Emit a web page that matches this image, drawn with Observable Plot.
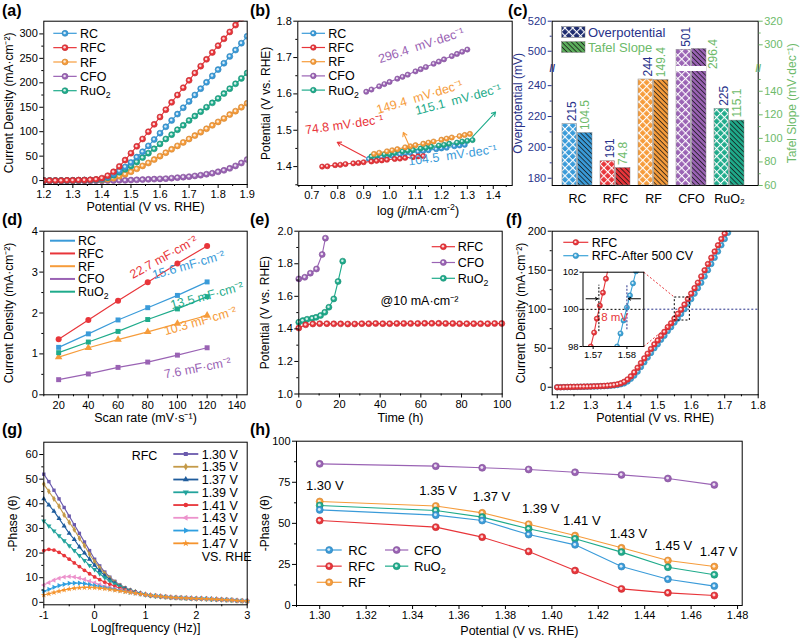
<!DOCTYPE html>
<html>
<head>
<meta charset="utf-8">
<script src="https://cdn.jsdelivr.net/npm/d3@7"></script>
<script src="https://cdn.jsdelivr.net/npm/@observablehq/plot@0.6"></script>
<style>
html,body{margin:0;padding:0;background:#fff;}
#root{position:relative;width:800px;height:643px;overflow:hidden;background:#fff;font-family:"Liberation Sans",Arial,Helvetica,sans-serif;}
.plab{position:absolute;font-weight:bold;font-size:16px;line-height:1;}
.htitle{position:absolute;font-size:12.5px;white-space:nowrap;transform:translate(-50%,-50%);line-height:1;}
</style>
</head>
<body>
<div id="root"></div>
<script>
// ================= DATA =================
const catalysts = ["RC", "RFC", "RF", "CFO", "RuO2"];

// (a) LSV polarization curves
const lsvPotential = [1.20,1.22,1.24,1.26,1.28,1.30,1.32,1.34,1.36,1.38,1.40,1.42,1.44,1.46,1.48,1.50,1.52,1.54,1.56,1.58,1.60,1.62,1.64,1.66,1.68,1.70,1.72,1.74,1.76,1.78,1.80,1.82,1.84,1.86,1.88,1.90];
const lsvRC   = [0,0,0,0,0,0.5,0.5,1,1,1.5,3,7,13,20,28,37,48,59,71,84,97,110,123,136,149,162,175,188,201,214,227,240,254,267,281,295];
const lsvRFC  = [0,0,0,0,0.5,0.5,1,1,1.5,2.5,5,10,18,29,42,56,70,85,100,115,130,145,160,175,190,205,220,234,248,262,276,290,304,318,332,346];
const lsvRF   = [0,0,0,0,0,0.3,0.5,0.5,0.8,1,1,2.5,5,9,13,18,24,30,36,43,50,57,64,71,78,85,92,99,106,113,120,127,135,142,150,158];
const lsvCFO  = [-1,-1,-1,-1,-1,-1,-1,-1,-1,-0.5,-0.5,0,0,0.5,0.5,1,1.5,2,2.5,3,3.5,4,5,6,7,8,9.5,11,13,15,18,21,25,30,36,43];
const lsvRuO2 = [0,0,0,0,0,0.5,0.5,1,1,1.5,2.5,6,11,17,23,30,38,47,56,65,75,85,94,104,113,123,132,141,150,159,168,178,188,198,209,220];

// (b) Tafel plots
const tafelLogRC = [0.92,0.94,0.97,0.99,1.01,1.04,1.06,1.08,1.11,1.13,1.15,1.18,1.20,1.22,1.25,1.27,1.29];
const tafelRC    = [1.421,1.423,1.426,1.428,1.430,1.434,1.436,1.438,1.441,1.443,1.445,1.448,1.450,1.452,1.456,1.458,1.460];
const tafelLogRFC = [0.74,0.76,0.79,0.81,0.83,0.86,0.88,0.90,0.93,0.95,0.97,0.99,1.02,1.04,1.06,1.09,1.11,1.13];
const tafelRFC    = [1.400,1.401,1.404,1.405,1.407,1.409,1.410,1.412,1.414,1.416,1.417,1.419,1.421,1.422,1.424,1.426,1.428,1.429];
const tafelLogRF = [0.94,0.96,0.99,1.01,1.03,1.06,1.08,1.10,1.13,1.15,1.17,1.20,1.22,1.24,1.27,1.29,1.31];
const tafelRF    = [1.435,1.438,1.442,1.445,1.448,1.453,1.456,1.459,1.463,1.466,1.469,1.474,1.477,1.480,1.484,1.487,1.490];
const tafelLogCFO = [0.91,0.93,0.96,0.98,1.00,1.03,1.05,1.07,1.10,1.12,1.14,1.17,1.19,1.21,1.24,1.26,1.28,1.30];
const tafelCFO    = [1.606,1.612,1.621,1.627,1.633,1.642,1.647,1.653,1.662,1.668,1.674,1.683,1.689,1.695,1.704,1.710,1.716,1.722];
const tafelLogRuO2 = [0.93,0.95,0.98,1.00,1.02,1.05,1.07,1.09,1.12,1.14,1.16,1.19,1.21,1.23,1.26,1.28,1.30,1.32];
const tafelRuO2    = [1.428,1.430,1.434,1.435,1.438,1.442,1.444,1.446,1.450,1.452,1.455,1.458,1.460,1.463,1.466,1.469,1.471,1.473];
const tafelNotes = [
  {text:"296.4  mV·dec⁻¹", x:1.122, y:1.733, rot:-18, c:"CFO"},
  {text:"149.4  mV·dec⁻¹", x:1.116, y:1.591, rot:-17, c:"RF"},
  {text:"115.1  mV·dec⁻¹", x:1.265, y:1.584, rot:-15, c:"RuO2"},
  {text:"74.8 mV·dec⁻¹",  x:0.825, y:1.515, rot:-8,  c:"RFC"},
  {text:"104.5  mV·dec⁻¹", x:1.243, y:1.431, rot:-8,  c:"RC"}
];
const tafelArrows = [
  {x1:0.907, y1:1.426, x2:0.798, y2:1.467, c:"RFC"},
  {x1:1.081, y1:1.449, x2:1.053, y2:1.494, c:"RF"},
  {x1:1.319, y1:1.481, x2:1.409, y2:1.550, c:"RuO2"}
];

// (c) overpotential (mV) and Tafel slope (mV/dec)
const overpotential = [215, 191, 244, 501, 225];
const tafelSlope = [104.5, 74.8, 149.4, 296.4, 115.1];

// (d) double-layer capacitance
const scanRate = [20, 40, 60, 80, 100, 120];
const dlRC   = [1.16,1.49,1.83,2.13,2.43,2.76];
const dlRFC  = [1.36,1.83,2.30,2.75,3.21,3.64];
const dlRF   = [0.92,1.15,1.35,1.54,1.74,1.94];
const dlCFO  = [0.37,0.51,0.67,0.80,0.97,1.15];
const dlRuO2 = [1.03,1.29,1.55,1.84,2.10,2.40];
const dlNotes = [
  {text:"22.7 mF·cm⁻²", x:90.7,  y:3.36, rot:-29, c:"RFC"},
  {text:"15.6 mF·cm⁻²", x:107.5, y:3.17, rot:-16, c:"RC"},
  {text:"13.5 mF·cm⁻²", x:119.9, y:2.42, rot:-15, c:"RuO2"},
  {text:"10.3 mF·cm⁻²", x:115.4, y:1.80, rot:-16, c:"RF"},
  {text:"7.6 mF·cm⁻²",  x:113.5, y:0.65, rot:-11, c:"CFO"}
];

// (e) chronopotentiometry @10 mA cm-2
const stabTimeRFC = [0,3.4,6.9,10.3,13.8,17.2,20.6,24.1,27.5,31,34.4,37.8,41.3,44.7,48.2,51.6,55,58.5,61.9,65.4,68.8,72.2,75.7,79.1,82.6,86,89.4,92.9,96.3,99.8];
const stabRFC     = [1.405,1.425,1.430,1.432,1.432,1.431,1.431,1.430,1.430,1.432,1.432,1.433,1.432,1.432,1.433,1.433,1.433,1.433,1.434,1.434,1.434,1.433,1.433,1.432,1.432,1.432,1.432,1.432,1.433,1.433];
const stabTimeCFO = [0,2.95,5.7,8.7,11.5,13.1];
const stabCFO     = [1.707,1.717,1.742,1.768,1.857,1.957];
const stabTimeRuO2 = [0,2.0,4.1,6.6,8.5,10.7,12.8,14.8,17.2,19.3,21.6];
const stabRuO2     = [1.441,1.451,1.459,1.465,1.471,1.482,1.502,1.533,1.584,1.691,1.816];

// (f) LSV before / after 500 CV
const fPotential = [1.20,1.21,1.22,1.23,1.24,1.25,1.26,1.27,1.28,1.29,1.30,1.31,1.32,1.33,1.34,1.35,1.36,1.37,1.38,1.39,1.40,1.41,1.42,1.43,1.44,1.45,1.46,1.47,1.48,1.49,1.50,1.51,1.52,1.53,1.54,1.55,1.56,1.57,1.58,1.59,1.60,1.61,1.62,1.63,1.64,1.65,1.66,1.67,1.68,1.69,1.70,1.71,1.72];
const fRFC = [0,0,0.2,0.3,0.4,0.5,0.6,0.7,0.8,0.9,1.0,1.2,1.3,1.5,1.7,2.0,2.4,3.0,3.8,5.0,7,10,14,19,25,31,37,43,49,55,60,66,71,77,82,88,94,99.5,106,113,120,127,134,142,150,158,166,174,182,190,197,205,213];
const fAfterCV = [0,0,0.1,0.2,0.3,0.4,0.5,0.6,0.7,0.8,0.9,1.0,1.1,1.2,1.4,1.6,1.9,2.3,2.9,3.8,5,7.5,11,15,20,26,32,38,44,50,55,61,66,72,77,83,88,94,100,107,113,120,127,134,142,150,158,166,174,182,190,198,206];
const insetRFCPot = [1.5693,1.5703,1.5711,1.5720,1.5729,1.5738,1.5747];
const insetRFCJ   = [98.0,98.75,99.5,100.2,100.9,101.65,102.4];
const insetAfterPot = [1.5771,1.5781,1.5790,1.5800,1.5809,1.5818,1.5827];
const insetAfterJ   = [98.0,98.7,99.4,100.1,100.75,101.4,102.05];

// (g) Bode phase plots of RFC
const eisLogF = [-1,-0.9,-0.8,-0.7,-0.6,-0.5,-0.4,-0.3,-0.2,-0.1,0,0.1,0.2,0.3,0.4,0.5,0.6,0.7,0.8,0.9,1.0,1.1,1.2,1.3,1.4,1.5,1.6,1.7,1.8,1.9,2.0,2.1,2.2,2.3,2.4,2.5,2.6,2.7,2.8,2.9,3.0];
const eisLabels = ["1.30 V","1.35 V","1.37 V","1.39 V","1.41 V","1.43 V","1.45 V","1.47 V"];
const eis130 = [52,49,45.5,42,38.5,35,31.5,28,24.5,21,17.5,14.8,12.3,10.2,8.5,7.0,5.9,5.0,4.3,3.7,3.2];
const eis135 = [48,45,42,39,35.5,32.5,29.5,26,23,19.5,16.5,14,11.7,9.8,8.2,6.8,5.7,4.9,4.2,3.6,3.2];
const eis137 = [42,39.5,37,34,31,28,25.5,22.5,20,17.5,15,12.8,10.8,9.2,7.8,6.5,5.5,4.7,4.1,3.6,3.1];
const eis139 = [33,31,29,27,25,23,21,19,17,15,13.3,11.6,10,8.6,7.4,6.3,5.3,4.6,4.0,3.5,3.1];
const eis141 = [21,21.5,21.2,20.3,19,17.5,16,14.5,13,11.6,10.3,9.2,8.2,7.3,6.5,5.7,5.0,4.4,3.9,3.5,3.1];
const eis143 = [7,8,9,9.8,10.3,10.5,10.3,9.9,9.3,8.6,7.9,7.2,6.6,6.0,5.5,5.0,4.5,4.1,3.7,3.4,3.1];
const eis145 = [4.5,5.3,6.1,6.8,7.3,7.7,7.8,7.8,7.6,7.2,6.8,6.4,6.0,5.6,5.2,4.8,4.4,4.0,3.7,3.4,3.1];
const eis147 = [3,3.5,4,4.5,5,5.4,5.7,5.9,6,6,5.9,5.7,5.5,5.2,4.9,4.6,4.3,4.0,3.7,3.4,3.1];
const eisTail = [2.8,2.6,2.4,2.2,2.0,1.9,1.8,1.7,1.6,1.5,1.5,1.4,1.3,1.2,1.1,1.0,0.9,0.7,0.6,0.5]; // log f 1.1..3.0, all curves overlap

// (h) phase angle vs potential
const hPotential = [1.30,1.35,1.37,1.39,1.41,1.43,1.45,1.47];
const hRC   = [58.2,55.0,51.7,43.2,36.9,23.7,16.0,11.8];
const hRFC  = [51.7,47.7,41.6,32.9,21.3,10.1,7.7,6.1];
const hRF   = [63.3,60.6,56.4,49.5,42.6,35.1,27.4,23.7];
const hCFO  = [86.2,84.8,83.8,82.8,81.1,79.5,77.3,73.4];
const hRuO2 = [60.9,57.8,53.8,46.7,40.6,32.5,23.3,18.7];
const hNotes = [
  {t:"1.30 V", x:1.3022, y:73.0}, {t:"1.35 V", x:1.3510, y:70.0}, {t:"1.37 V", x:1.3740, y:66.3},
  {t:"1.39 V", x:1.3952, y:58.8}, {t:"1.41 V", x:1.4129, y:51.7}, {t:"1.43 V", x:1.4330, y:43.6},
  {t:"1.45 V", x:1.4524, y:36.1}, {t:"1.47 V", x:1.4718, y:32.7}
];

// ================= STYLE / HELPERS =================
const FONT = '"Liberation Sans", Arial, Helvetica, sans-serif';
const root = document.getElementById("root");
const navy = "#28328a", green = "#6dba6a";
const colors = {RC:"#3a9bd9", RFC:"#e8353a", RF:"#f69c3b", CFO:"#9a63b4", RuO2:"#1fab8b"};
const eisColors = ["#6a5aad","#c49a48","#1f5c9c","#22a39c","#e8353a","#ec92cc","#2f9fe0","#f5942e"];
const eisSymbols = ["square","diamond","triangle","triangle","circle","triangle","triangle","star"];
const eisRot = [0,0,0,180,0,-90,90,0];
const baseStyle = {fontSize:"11px", fontFamily: FONT, background:"transparent", overflow:"visible", color:"black"};

function place(svg, left, top) {
  svg.style.position = "absolute"; svg.style.left = left + "px"; svg.style.top = top + "px";
  root.appendChild(svg); return svg;
}
function rows(xs, ys) { return xs.map((x, i) => ({x, y: ys[i]})); }
function balls(d, color, r, extra = {}) {
  return [
    Plot.dot(d, {x:"x", y:"y", r, fill: color, stroke: d3.color(color).darker(0.5).formatHex(), strokeWidth: 0.6, ...extra}),
    Plot.dot(d, {x:"x", y:"y", r: r * 0.42, fill: "white", fillOpacity: 0.8, dx: -0.4, dy: -0.4, ...extra})
  ];
}
function lineBalls(xs, ys, color, r, extra = {}) {
  const d = rows(xs, ys);
  return [Plot.line(d, {x:"x", y:"y", stroke: color, strokeWidth: 1.1, ...extra}), ...balls(d, color, r, extra)];
}
function axX(major, minor, fmt, o = {}) {
  return [
    Plot.axisX({ticks: major, tickFormat: fmt, tickSize: 4, tickPadding: 2, label: null, ...o}),
    Plot.axisX({ticks: minor, tickFormat: () => "", tickSize: 2, label: null, ...o})
  ];
}
function axY(major, minor, fmt, o = {}) {
  return [
    Plot.axisY({ticks: major, tickFormat: fmt, tickSize: 4, tickPadding: 2, label: null, ...o}),
    Plot.axisY({ticks: minor, tickFormat: () => "", tickSize: 2, label: null, ...o})
  ];
}
const yTitle = (t, dx, o = {}) => Plot.text([t], {text: d => d, frameAnchor: "left", textAnchor: "middle", rotate: -90, dx, fontSize: 12, ...o});
const xTitle = (t, dy) => Plot.text([t], {text: d => d, frameAnchor: "bottom", textAnchor: "middle", dy, fontSize: 12.5});

function setLabel(t, label) {
  if (label === "RuO2") {
    t.text("RuO");
    t.append("tspan").attr("font-size", "70%").attr("dy", "0.35em").text("2");
  } else t.text(label);
}
function drawMarker(g, type, x, y, color, r, rot) {
  if (type === "ball") {
    g.append("circle").attr("cx", x).attr("cy", y).attr("r", r).attr("fill", color)
      .attr("stroke", d3.color(color).darker(0.5).formatHex()).attr("stroke-width", 0.6);
    g.append("circle").attr("cx", x - 0.4).attr("cy", y - 0.4).attr("r", r * 0.42).attr("fill", "white").attr("fill-opacity", 0.8);
  } else if (type) {
    const sym = {square: d3.symbolSquare, triangle: d3.symbolTriangle, circle: d3.symbolCircle, diamond: d3.symbolDiamond, star: d3.symbolStar}[type];
    g.append("path").attr("d", d3.symbol(sym, r * r * 3.3)()).attr("transform", `translate(${x},${y}) rotate(${rot || 0})`).attr("fill", color);
  }
}
function legend(svg, items, o) {
  const g = d3.select(svg).append("g").attr("font-family", FONT).attr("font-size", o.fs || 12.5).attr("text-anchor", "start");
  items.forEach((it, i) => {
    const y = o.y0 + i * o.dy;
    g.append("line").attr("x1", o.x0).attr("x2", o.x1).attr("y1", y).attr("y2", y)
      .attr("stroke", it.color).attr("stroke-width", o.sw || 1.2);
    if (it.marker) drawMarker(g, it.marker, (o.x0 + o.x1) / 2, y, it.color, o.r || 3, it.rot);
    const t = g.append("text").attr("x", o.tx).attr("y", y).attr("dy", "0.36em").attr("fill", "black");
    setLabel(t, it.label);
  });
  return g;
}
function panelLabel(txt, left, top) {
  const d = document.createElement("div"); d.className = "plab"; d.textContent = txt;
  d.style.left = left + "px"; d.style.top = top + "px"; root.appendChild(d);
}
const fmt1 = d => d.toFixed(1);
const fmt2 = d => d.toFixed(2);
const fmt0 = d => String(d);

// ================= (a) =================
const lsvBy = {RC: lsvRC, RFC: lsvRFC, RF: lsvRF, CFO: lsvCFO, RuO2: lsvRuO2};
const pa = Plot.plot({
  width: 265, height: 215, marginLeft: 43.3, marginRight: 18.3, marginTop: 20.7, marginBottom: 31,
  style: baseStyle,
  x: {domain: [1.2, 1.9], axis: null}, y: {domain: [-8, 326], axis: null},
  marks: [
    ...["CFO", "RF", "RuO2", "RC", "RFC"].flatMap(k => lineBalls(lsvPotential, lsvBy[k], colors[k], 3, {clip: true})),
    Plot.frame({stroke: "black"}),
    ...axX([1.2,1.3,1.4,1.5,1.6,1.7,1.8,1.9], [1.25,1.35,1.45,1.55,1.65,1.75,1.85], fmt1),
    ...axY([0,50,100,150,200,250,300], [25,75,125,175,225,275], fmt0),
    yTitle("Current Density (mA·cm⁻²)", -35),
    xTitle("Potential (V vs. RHE)", 26.5)
  ]
});
place(pa, 0, 0);
legend(pa, catalysts.map(k => ({label: k, color: colors[k], marker: "ball"})), {x0: 53.3, x1: 76.7, tx: 80, y0: 33.3, dy: 14.35, r: 3});

// ================= (b) =================
const tafelBy = {RC: [tafelLogRC, tafelRC], RFC: [tafelLogRFC, tafelRFC], RF: [tafelLogRF, tafelRF], CFO: [tafelLogCFO, tafelCFO], RuO2: [tafelLogRuO2, tafelRuO2]};
const pb = Plot.plot({
  width: 265, height: 215, marginLeft: 32.3, marginRight: 18.3, marginTop: 20.7, marginBottom: 30,
  style: baseStyle, color: {type: "identity"},
  x: {domain: [0.646, 1.473], axis: null}, y: {domain: [1.348, 1.8], axis: null},
  marks: [
    ...["RC", "RuO2", "RF", "RFC", "CFO"].flatMap(k => lineBalls(tafelBy[k][0], tafelBy[k][1], colors[k], 2.6)),
    Plot.text(tafelNotes, {x: "x", y: "y", text: "text", rotate: "rot", fill: d => colors[d.c], fontSize: 12.5}),
    Plot.arrow(tafelArrows, {x1: "x1", y1: "y1", x2: "x2", y2: "y2", stroke: d => colors[d.c], strokeWidth: 1.1, headLength: 6}),
    Plot.frame({stroke: "black"}),
    ...axX([0.7,0.8,0.9,1.0,1.1,1.2,1.3,1.4], [0.65,0.75,0.85,0.95,1.05,1.15,1.25,1.35,1.45], fmt1),
    ...axY([1.4,1.5,1.6,1.7,1.8], [1.35,1.45,1.55,1.65,1.75], fmt1),
    yTitle("Potential (V vs. RHE)", -32)
  ]
});
place(pb, 265, 0);
legend(pb, catalysts.map(k => ({label: k, color: colors[k], marker: "ball"})), {x0: 36.7, x1: 60, tx: 63.3, y0: 33.3, dy: 14.2, r: 2.8});
{
  const d = document.createElement("div"); d.className = "htitle";
  d.innerHTML = "log (<i>j</i>/mA·cm<sup style='font-size:70%'>-2</sup>)";
  d.style.left = "418px"; d.style.top = "210px"; root.appendChild(d);
}

// ================= (c) =================
const cRows = catalysts.map((c, i) => ({cat: c, op: overpotential[i], tafel: tafelSlope[i]}));
const opDomain = [175.3, 249.5, 489.5, 520];
const tafelDomain = [60, 157.2, 281.2, 320];
const breakRange = [185, 70.5, 66.5, 20.7];
const xBand = {type: "band", domain: catalysts, range: [32.2, 218.9], paddingInner: 0.2, paddingOuter: 0, align: 0, axis: null};
const halfBar = 15.55;
const cfoRow = cRows.filter(d => d.cat === "CFO");
const otherRows = cRows.filter(d => d.cat !== "CFO");
const pc1 = Plot.plot({
  width: 270, height: 215, marginLeft: 21.7, marginRight: 42.3, marginTop: 20.7, marginBottom: 30,
  style: baseStyle, color: {type: "identity"},
  x: xBand, y: {type: "linear", domain: opDomain, range: breakRange, axis: null},
  marks: [
    Plot.barY(cRows, {x: "cat", y1: opDomain[0], y2: "op", fill: d => colors[d.cat], insetRight: halfBar}),
    Plot.barY(cRows, {x: "cat", y1: opDomain[0], y2: "op", fill: "url(#hatchCross)", insetRight: halfBar, stroke: "#8a8a8a", strokeWidth: 0.5}),
    Plot.text(cRows, {x: "cat", y: "op", text: d => String(d.op), rotate: -90, textAnchor: "start", dx: -5, dy: -3, fill: navy, fontSize: 12}),
    Plot.frame({stroke: "black"}),
    ...axY([180,200,220,240,500,520], [190,210,230,510], fmt0, {color: navy, line: true}),
    Plot.axisX({tickSize: 0, tickPadding: 9, fontSize: 12.5, label: null, tickFormat: d => d === "RuO2" ? "RuO₂" : d}),
    yTitle("Overpotential (mV)", -34, {fill: navy})
  ]
});
place(pc1, 530, 0);
{
  const defs = d3.select(pc1).insert("defs", ":first-child");
  const p1 = defs.append("pattern").attr("id", "hatchCross").attr("patternUnits", "userSpaceOnUse")
    .attr("width", 5.5).attr("height", 5.5).attr("patternTransform", "rotate(45)");
  p1.append("path").attr("d", "M0,0.5H5.5M0.5,0V5.5").attr("stroke", "white").attr("stroke-width", 1.1).attr("fill", "none");
  const p2 = defs.append("pattern").attr("id", "hatchDiag").attr("patternUnits", "userSpaceOnUse")
    .attr("width", 3.4).attr("height", 3.4).attr("patternTransform", "rotate(45)");
  p2.append("path").attr("d", "M0,0.5H3.4").attr("stroke", "#111").attr("stroke-width", 0.75);
  const gl = d3.select(pc1).append("g").attr("font-family", FONT).attr("font-size", 13).attr("text-anchor", "start");
  [["Overpotential", "#1d2b6f", "url(#hatchCross)", navy, 26.7], ["Tafel Slope", "#5cae5c", "url(#hatchDiag)", green, 41.7]]
    .forEach(([label, base, pat, tc, y]) => {
      gl.append("rect").attr("x", 31.7).attr("y", y).attr("width", 23.3).attr("height", 10.6).attr("fill", base);
      gl.append("rect").attr("x", 31.7).attr("y", y).attr("width", 23.3).attr("height", 10.6).attr("fill", pat).attr("stroke", "#777").attr("stroke-width", 0.5);
      gl.append("text").attr("x", 58).attr("y", y + 5.3).attr("dy", "0.36em").attr("fill", tc).text(label);
    });
}
const pc2 = Plot.plot({
  width: 270, height: 215, marginLeft: 21.7, marginRight: 42.3, marginTop: 20.7, marginBottom: 30,
  style: baseStyle, color: {type: "identity"},
  x: xBand, y: {type: "linear", domain: tafelDomain, range: breakRange, axis: null},
  marks: [
    Plot.barY(cRows, {x: "cat", y1: tafelDomain[0], y2: "tafel", fill: d => colors[d.cat], insetLeft: halfBar}),
    Plot.barY(cRows, {x: "cat", y1: tafelDomain[0], y2: "tafel", fill: "url(#hatchDiag)", insetLeft: halfBar, stroke: "#8a8a8a", strokeWidth: 0.5}),
    // axis break gap across the CFO bars only
    Plot.barY(cfoRow, {x: "cat", y1: tafelDomain[1], y2: tafelDomain[2], fill: "white", insetTop: -0.5, insetBottom: -0.5}),
    Plot.text(otherRows, {x: "cat", y: "tafel", text: d => String(d.tafel), rotate: -90, textAnchor: "start", dx: 7.5, dy: -3, fill: green, fontSize: 12}),
    Plot.text(cfoRow, {x: "cat", y: "tafel", text: d => String(d.tafel), rotate: -90, textAnchor: "start", dx: 22, dy: 20, fill: green, fontSize: 12}),
    ...axY([60,80,100,120,140,300,320], [70,90,110,130,150,310], fmt0, {anchor: "right", color: green, line: true}),
    Plot.text(["//"], {y: () => 219.2, frameAnchor: "left", textAnchor: "middle", text: d => d, fill: navy, fontSize: 10, fontWeight: "bold"}),
    Plot.text(["//"], {y: () => 219.2, frameAnchor: "right", textAnchor: "middle", text: d => d, fill: green, fontSize: 10, fontWeight: "bold"}),
    Plot.text(["Tafel Slope (mV·dec⁻¹)"], {text: d => d, frameAnchor: "right", textAnchor: "middle", rotate: -90, dx: 34, fontSize: 12, fill: green})
  ]
});
place(pc2, 530, 0);

// ================= (d) =================
const dlBy = {RC: dlRC, RFC: dlRFC, RF: dlRF, CFO: dlCFO, RuO2: dlRuO2};
const dlSym = {RC: "square", RFC: "circle", RF: "triangle", CFO: "square", RuO2: "square"};
const pd = Plot.plot({
  width: 265, height: 215, marginLeft: 43.3, marginRight: 18.3, marginTop: 20.7, marginBottom: 30.7,
  style: baseStyle, color: {type: "identity"},
  x: {domain: [10, 147], axis: null}, y: {domain: [0, 4], axis: null},
  marks: [
    ...catalysts.flatMap(k => {
      const d = rows(scanRate, dlBy[k]);
      return [Plot.line(d, {x: "x", y: "y", stroke: colors[k], strokeWidth: 1.2}),
              Plot.dot(d, {x: "x", y: "y", fill: colors[k], symbol: dlSym[k], r: dlSym[k] === "circle" ? 3 : 2.8})];
    }),
    Plot.text(dlNotes, {x: "x", y: "y", text: "text", rotate: "rot", fill: d => colors[d.c], fontSize: 12.5}),
    Plot.frame({stroke: "black"}),
    ...axX([20,40,60,80,100,120,140], [10,30,50,70,90,110,130], fmt0),
    ...axY([0,1,2,3,4], [0.5,1.5,2.5,3.5], fmt0),
    yTitle("Current Density (mA·cm⁻²)", -35),
    xTitle("Scan rate (mV·s⁻¹)", 27)
  ]
});
place(pd, 0, 210);
legend(pd, catalysts.map(k => ({label: k, color: colors[k]})), {x0: 50, x1: 75, tx: 78, y0: 30.7, dy: 12.75, sw: 2});

// ================= (e) =================
const pe = Plot.plot({
  width: 265, height: 215, marginLeft: 33.3, marginRight: 28.3, marginTop: 20.7, marginBottom: 31.5,
  style: baseStyle,
  x: {domain: [0, 100], axis: null}, y: {domain: [1.0, 2.0], axis: null},
  marks: [
    ...lineBalls(stabTimeRuO2, stabRuO2, colors.RuO2, 3),
    ...lineBalls(stabTimeCFO, stabCFO, colors.CFO, 3),
    ...lineBalls(stabTimeRFC, stabRFC, colors.RFC, 3),
    Plot.text(["@10 mA·cm⁻²"], {x: () => 40.2, y: () => 1.574, text: d => d, textAnchor: "start", fontSize: 12.5}),
    Plot.frame({stroke: "black"}),
    ...axX([0,20,40,60,80,100], [10,30,50,70,90], fmt0),
    ...axY([1.0,1.2,1.4,1.6,1.8,2.0], [1.1,1.3,1.5,1.7,1.9], fmt1),
    yTitle("Potential (V vs. RHE)", -34),
    xTitle("Time (h)", 27.5)
  ]
});
place(pe, 265, 210);
legend(pe, ["RFC", "CFO", "RuO2"].map(k => ({label: k, color: colors[k], marker: "ball"})), {x0: 166.7, x1: 190, tx: 192.7, y0: 36.7, dy: 15.8, r: 3});

// ================= (f) =================
const fBlue = "#3ba3d8";
const pf = Plot.plot({
  width: 270, height: 215, marginLeft: 21.7, marginRight: 42.3, marginTop: 20.7, marginBottom: 30.7,
  style: baseStyle,
  x: {domain: [1.185, 1.8], axis: null}, y: {domain: [-9.7, 200], axis: null},
  marks: [
    Plot.ruleY([100], {x1: 1.4585, x2: 1.8, stroke: navy, strokeDasharray: "2,2"}),
    ...lineBalls(fPotential, fAfterCV, fBlue, 2.8, {clip: true}),
    ...lineBalls(fPotential, fRFC, colors.RFC, 2.8, {clip: true}),
    Plot.rect([0], {x1: () => 1.551, x2: () => 1.596, y1: () => 85.5, y2: () => 115, fill: "none", stroke: "black", strokeDasharray: "2,2"}),
    Plot.link([[1.4585, 147.4, 1.551, 115], [1.4585, 52.2, 1.551, 85.5]], {x1: d => d[0], y1: d => d[1], x2: d => d[2], y2: d => d[3], stroke: colors.RFC, strokeDasharray: "2,2"}),
    Plot.frame({stroke: "black"}),
    ...axX([1.2,1.3,1.4,1.5,1.6,1.7,1.8], [1.25,1.35,1.45,1.55,1.65,1.75], fmt1),
    ...axY([0,50,100,150,200], [25,75,125,175], fmt0),
    yTitle("Current Density (mA·cm⁻²)", -31),
    xTitle("Potential (V vs. RHE)", 27)
  ]
});
place(pf, 530, 210);
legend(pf, [{label: "RFC", color: colors.RFC, marker: "ball"}, {label: "RFC-After 500 CV", color: fBlue, marker: "ball"}], {x0: 33.3, x1: 58.3, tx: 61.7, y0: 32.3, dy: 13.4, r: 2.8});

const pfi = Plot.plot({
  width: 100, height: 100, marginLeft: 27.5, marginRight: 11.7, marginTop: 9.7, marginBottom: 16,
  style: {...baseStyle, fontSize: "9.5px"},
  x: {domain: [1.567, 1.585], axis: null}, y: {domain: [98, 102], axis: null},
  marks: [
    Plot.frame({fill: "white", stroke: "none"}),
    Plot.ruleY([100], {stroke: "black", strokeDasharray: "2,2"}),
    ...lineBalls(insetRFCPot, insetRFCJ, colors.RFC, 2.6, {clip: true}),
    ...lineBalls(insetAfterPot, insetAfterJ, fBlue, 2.6, {clip: true}),
    Plot.ruleX([1.5717], {y1: 98.8, y2: 101.3, stroke: "black", strokeDasharray: "2,1.5"}),
    Plot.ruleX([1.5800], {y1: 98.9, y2: 101.3, stroke: navy, strokeDasharray: "2,1.5"}),
    Plot.arrow([[1.5679, 1.5714], [1.5840, 1.5804]], {x1: d => d[0], x2: d => d[1], y1: () => 100.57, y2: () => 100.57, stroke: "black", headLength: 4, strokeWidth: 1}),
    Plot.text(["8 mV"], {x: () => 1.5724, y: () => 99.55, text: d => d, textAnchor: "start", fill: colors.RFC, fontSize: 11.5}),
    Plot.frame({stroke: "black"}),
    Plot.axisY({ticks: [98, 100, 102], tickSize: 3, tickPadding: 1.5, label: null, tickFormat: fmt0}),
    Plot.axisX({ticks: [1.57, 1.58], tickSize: 3, tickPadding: 1.5, label: null, tickFormat: fmt2})
  ]
});
place(pfi, 555, 262);

// ================= (g) =================
const eisHeads = [eis130, eis135, eis137, eis139, eis141, eis143, eis145, eis147];
const pg = Plot.plot({
  width: 265, height: 223, marginLeft: 43.3, marginRight: 18.3, marginTop: 21.7, marginBottom: 38.7,
  style: baseStyle,
  x: {domain: [-1, 3], axis: null}, y: {domain: [-1, 65], axis: null},
  marks: [
    ...eisHeads.flatMap((h, i) => {
      const d = rows(eisLogF, h.concat(eisTail));
      return [Plot.line(d, {x: "x", y: "y", stroke: eisColors[i], strokeWidth: 1.1}),
              Plot.dot(d, {x: "x", y: "y", fill: eisColors[i], symbol: eisSymbols[i], rotate: eisRot[i], r: 1.9})];
    }),
    Plot.frame({stroke: "black"}),
    ...axX([-1,0,1,2,3], [-0.5,0.5,1.5,2.5], fmt0),
    ...axY([0,10,20,30,40,50,60], [5,15,25,35,45,55], fmt0),
    yTitle("-Phase (θ)", -31),
    xTitle("Log[frequency (Hz)]", 27)
  ]
});
place(pg, 0, 420);
{
  const g = legend(pg, eisLabels.map((l, i) => ({label: l, color: eisColors[i], marker: eisSymbols[i], rot: eisRot[i]})),
    {x0: 173.3, x1: 198.3, tx: 201.7, y0: 34, dy: 12.76, sw: 1.8, r: 2.2, fs: 12.5});
  g.append("text").attr("x", 131.7).attr("y", 35).attr("dy", "0.36em").text("RFC");
  g.append("text").attr("x", 201.7).attr("y", 136.7).attr("dy", "0.36em").text("VS. RHE");
}

// ================= (h) =================
const hBy = {RC: hRC, RFC: hRFC, RF: hRF, CFO: hCFO, RuO2: hRuO2};
const ph = Plot.plot({
  width: 540, height: 223, marginLeft: 36, marginRight: 58.3, marginTop: 20.7, marginBottom: 38,
  style: baseStyle,
  x: {domain: [1.29, 1.482], axis: null}, y: {domain: [0, 100], axis: null},
  marks: [
    ...["CFO", "RF", "RuO2", "RC", "RFC"].flatMap(k => lineBalls(hPotential, hBy[k], colors[k], 3.5)),
    Plot.text(hNotes, {x: "x", y: "y", text: "t", fontSize: 13}),
    Plot.frame({stroke: "black"}),
    ...axX([1.30,1.32,1.34,1.36,1.38,1.40,1.42,1.44,1.46,1.48], [1.29,1.31,1.33,1.35,1.37,1.39,1.41,1.43,1.45,1.47], fmt2),
    ...axY([0,25,50,75,100], [12.5,37.5,62.5,87.5], fmt0),
    yTitle("-Phase (θ)", -31),
    xTitle("Potential (V vs. RHE)", 29)
  ]
});
place(ph, 260, 420);
legend(ph, ["RC", "RFC", "RF"].map(k => ({label: k, color: colors[k], marker: "ball"})), {x0: 56.7, x1: 81.7, tx: 88.3, y0: 130, dy: 16.15, r: 3.5, fs: 13});
legend(ph, ["CFO", "RuO2"].map(k => ({label: k, color: colors[k], marker: "ball"})), {x0: 125, x1: 148.3, tx: 154, y0: 130, dy: 16.15, r: 3.5, fs: 13});

// ================= panel labels =================
panelLabel("(a)", 2, 3); panelLabel("(b)", 250, 3); panelLabel("(c)", 508, 3);
panelLabel("(d)", 2, 212); panelLabel("(e)", 250, 212); panelLabel("(f)", 506, 212);
panelLabel("(g)", 2, 422); panelLabel("(h)", 250, 422);
</script>
</body>
</html>
